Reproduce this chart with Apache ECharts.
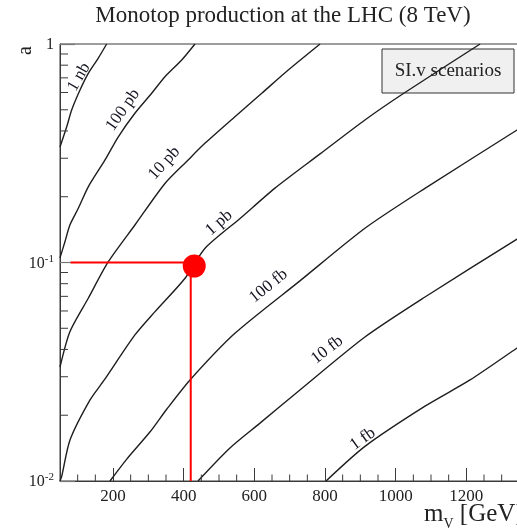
<!DOCTYPE html>
<html>
<head>
<meta charset="utf-8">
<script src="https://cdn.jsdelivr.net/npm/echarts@6/dist/echarts.min.js"></script>
<style>
  html, body { margin: 0; padding: 0; background: #fff; overflow: hidden; }
  #wrap { width: 517px; height: 528px; overflow: hidden; position: relative; }
  #chart { width: 560px; height: 528px; position: absolute; left: 0; top: 0; }
</style>
</head>
<body>
<div id="wrap"><div id="chart"></div></div>
<script>
// Mediator mass m_V [GeV] vs coupling a; iso-cross-section contours
const massMajorTicks = [200, 400, 600, 800, 1000, 1200, 1400];
const massMinorTicks = [100, 150, 250, 300, 350, 450, 500, 550, 650, 700, 750,
                        850, 900, 950, 1050, 1100, 1150, 1250, 1300, 1350];
const couplingMinorTicks = [0.02, 0.03, 0.04, 0.05, 0.06, 0.07, 0.08, 0.09,
                            0.2, 0.3, 0.4, 0.5, 0.6, 0.7, 0.8, 0.9];

// contour points [m_V, a]
const contour1nb   = [[50, 0.338], [69, 0.418], [83, 0.499], [106.6, 0.616], [130, 0.734], [158, 0.86], [182, 1]];
const contour100pb = [[50, 0.105], [64, 0.1245], [78, 0.1485], [101.8, 0.177], [130, 0.222], [177, 0.294],
                      [215, 0.376], [262, 0.482], [309.5, 0.595], [347, 0.708], [394.5, 0.845], [432, 1]];
const contour10pb  = [[50, 0.0332], [78, 0.0482], [130, 0.0686], [186.7, 0.1008], [262, 0.1485], [347, 0.23],
                      [412, 0.294], [460, 0.351], [545, 0.465], [621, 0.595], [696, 0.76], [786, 1]];
const contour1pb   = [[50, 0.01], [54.8, 0.0105], [78.3, 0.0154], [135, 0.0235], [175.4, 0.029], [262, 0.0466],
                      [319, 0.0596], [404, 0.0847], [460, 0.116], [559.5, 0.159], [658.5, 0.219],
                      [786, 0.314], [913, 0.449], [1023, 0.595], [1239, 1]];
const contour100fb = [[191.5, 0.01], [239, 0.0126], [305, 0.0168], [352, 0.0213], [418, 0.029], [545, 0.0474],
                      [729, 0.0824], [913, 0.1434], [1084, 0.219], [1343.5, 0.404], [1400, 0.461]];
const contour10fb  = [[440.6, 0.01], [531, 0.01416], [616, 0.0184], [729, 0.0261], [913, 0.0456],
                      [1083, 0.0695], [1343.5, 0.128], [1400, 0.146]];
const contour1fb   = [[803, 0.01], [913, 0.0144], [1083, 0.022], [1210.5, 0.029], [1343.5, 0.0406], [1400, 0.0469]];

const contourLabels = [
  [103.8, 0.706, '1 nb'],
  [228, 0.499, '100 pb'],
  [345, 0.285, '10 pb'],
  [500, 0.152, '1 pb'],
  [640, 0.078, '100 fb'],
  [806, 0.0398, '10 fb'],
  [907, 0.01556, '1 fb']
];
const labelAngles = [60, 55, 48, 41, 39, 38, 36];

// benchmark point and its guide lines
const benchmark = [[420, 0.1]];
const guideLine = [[80, 0.1], [420, 0.1], [420, 0.01]];

const serif = 'Liberation Serif';
const axisGray = '#3a3a3a';

const chart = echarts.init(document.getElementById('chart'), null, { renderer: 'canvas' });

function contourSeries(data) {
  return {
    type: 'line',
    data: data,
    showSymbol: false,
    smooth: 0.25,
    lineStyle: { color: '#1e1e1e', width: 1.4 },
    silent: true,
    z: 3
  };
}

const option = {
  animation: false,
  backgroundColor: '#ffffff',
  grid: {
    left: 60, top: 44, bottom: 47, right: 23,
    show: true, borderColor: axisGray, borderWidth: 1, backgroundColor: 'transparent'
  },
  xAxis: {
    type: 'value',
    min: 50, max: 1400,
    axisLine: { show: true, onZero: false, lineStyle: { color: axisGray, width: 1 } },
    axisTick: { show: true, inside: true, length: 13, customValues: massMajorTicks,
                lineStyle: { color: axisGray, width: 1 } },
    axisLabel: { customValues: massMajorTicks, margin: 7, color: '#222',
                 fontFamily: serif, fontSize: 17,
                 formatter: function (v) { return String(v); } },
    splitLine: { show: false }
  },
  yAxis: {
    type: 'log',
    logBase: 10,
    min: 0.01, max: 1,
    axisLine: { show: true, lineStyle: { color: axisGray, width: 1 } },
    axisTick: { show: true, inside: true, length: 15, lineStyle: { color: '#777', width: 1.2 } },
    axisLabel: {
      margin: 6,
      color: '#222',
      fontFamily: serif,
      formatter: function (v) {
        const e = Math.round(Math.log10(v));
        if (e === 0) return '{b|1}';
        return '{b|10}{s|' + e + '}';
      },
      rich: {
        b: { fontFamily: serif, fontSize: 16, color: '#222', lineHeight: 18, verticalAlign: 'bottom' },
        s: { fontFamily: serif, fontSize: 11, color: '#222', lineHeight: 18, verticalAlign: 'top' }
      }
    },
    splitLine: { show: false }
  },
  graphic: [
    { type: 'text', x: 283, y: 4, z: 10,
      style: { text: 'Monotop production at the LHC (8 TeV)', font: '23px "Liberation Serif"', fill: '#222',
               textAlign: 'center', textVerticalAlign: 'top' } },
    { type: 'text', x: 16, y: 55, rotation: Math.PI / 2, z: 10,
      style: { text: 'a', font: '20px "Liberation Serif"', fill: '#222', textAlign: 'left', textVerticalAlign: 'top' } },
    { type: 'text', x: 424, y: 501, z: 10,
      style: {
        text: '{m|m}{v|V}{g| [GeV]}',
        rich: {
          m: { font: '25px "Liberation Serif"', fill: '#222', lineHeight: 26, verticalAlign: 'bottom' },
          v: { font: '14px "Liberation Serif"', fill: '#222', lineHeight: 26, verticalAlign: 'bottom', padding: [0, 0, -4, 0] },
          g: { font: '25px "Liberation Serif"', fill: '#222', lineHeight: 26, verticalAlign: 'bottom' }
        }
      } },
    { type: 'group', x: 382, y: 49, z: 20, children: [
      { type: 'rect', shape: { x: 0, y: 0, width: 132, height: 44 },
        style: { fill: '#f0f0f0', stroke: '#333', lineWidth: 1 } },
      { type: 'text', x: 66, y: 22,
        style: { text: 'SI.v scenarios', font: '19px "Liberation Serif"', fill: '#222',
                 textAlign: 'center', textVerticalAlign: 'middle' } }
    ] }
  ],
  series: [
    contourSeries(contour1nb),
    contourSeries(contour100pb),
    contourSeries(contour10pb),
    contourSeries(contour1pb),
    contourSeries(contour100fb),
    contourSeries(contour10fb),
    contourSeries(contour1fb),
    {
      // contour labels, rotated along the curves
      type: 'custom',
      data: contourLabels,
      silent: true,
      z: 4,
      renderItem: function (params, api) {
        const p = api.coord([api.value(0), api.value(1)]);
        const item = contourLabels[params.dataIndex];
        return {
          type: 'text',
          x: p[0], y: p[1],
          rotation: labelAngles[params.dataIndex] * Math.PI / 180,
          style: { text: item[2], font: '17px "Liberation Serif"', fill: '#141422',
                   textAlign: 'center', textVerticalAlign: 'middle' }
        };
      }
    },
    {
      // minor ticks along the mass axis
      type: 'custom',
      data: massMinorTicks.map(function (v) { return [v, 0.01]; }),
      silent: true,
      z: 5,
      renderItem: function (params, api) {
        const p = api.coord([api.value(0), api.value(1)]);
        return { type: 'line', shape: { x1: p[0], y1: p[1], x2: p[0], y2: p[1] - 6.5 },
                 style: { stroke: axisGray, lineWidth: 1 } };
      }
    },
    {
      // minor ticks along the coupling axis
      type: 'custom',
      data: couplingMinorTicks.map(function (v) { return [50, v]; }),
      silent: true,
      z: 5,
      renderItem: function (params, api) {
        const p = api.coord([api.value(0), api.value(1)]);
        return { type: 'line', shape: { x1: p[0], y1: p[1], x2: p[0] + 8, y2: p[1] },
                 style: { stroke: axisGray, lineWidth: 1 } };
      }
    },
    {
      type: 'line',
      data: guideLine,
      showSymbol: false,
      lineStyle: { color: '#ff0000', width: 2 },
      silent: true,
      z: 6
    },
    {
      type: 'scatter',
      data: benchmark,
      symbol: 'circle',
      symbolSize: 23,
      symbolOffset: [3.5, 3.5],
      itemStyle: { color: '#ff0000', opacity: 1 },
      silent: true,
      z: 7
    }
  ]
};

chart.setOption(option);
</script>
</body>
</html>
